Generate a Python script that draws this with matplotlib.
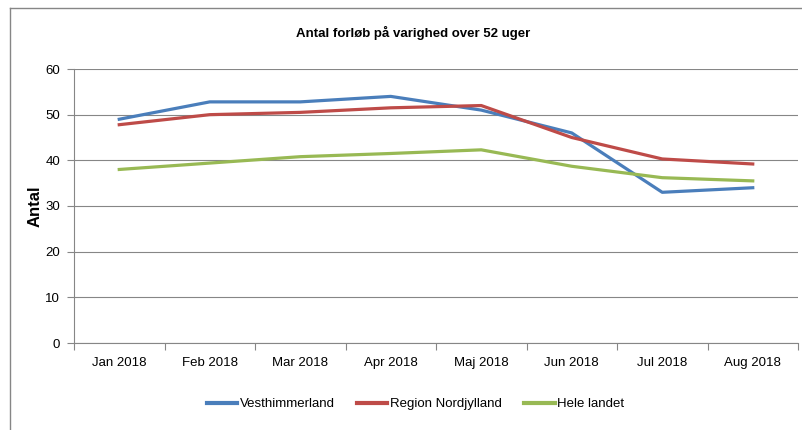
import matplotlib
matplotlib.use("Agg")
import matplotlib.pyplot as plt
from matplotlib import font_manager
from matplotlib.lines import Line2D

names = {f.name for f in font_manager.fontManager.ttflist}
narrow = "Liberation Sans Narrow" if "Liberation Sans Narrow" in names else "Liberation Sans"

categories = ["Jan 2018", "Feb 2018", "Mar 2018", "Apr 2018", "Maj 2018", "Jun 2018", "Jul 2018", "Aug 2018"]
vesthimmerland = [49.0, 52.8, 52.8, 54.0, 51.0, 46.0, 33.0, 34.0]
region_nordjylland = [47.8, 50.0, 50.5, 51.5, 52.0, 45.0, 40.3, 39.2]
hele_landet = [38.0, 39.4, 40.8, 41.5, 42.3, 38.7, 36.2, 35.5]
yticks = [0, 10, 20, 30, 40, 50, 60]

fig = plt.figure(figsize=(8.02, 4.30), dpi=100)
ax = fig.add_axes([74/802, 1-343/430, 724/802, 274/430])

x = list(range(len(categories)))
ax.plot(x, vesthimmerland, color="#4A7EBB", lw=2.3, label="Vesthimmerland", solid_joinstyle="round")
ax.plot(x, region_nordjylland, color="#BE4B48", lw=2.3, label="Region Nordjylland", solid_joinstyle="round")
ax.plot(x, hele_landet, color="#98B954", lw=2.3, label="Hele landet", solid_joinstyle="round")

ax.set_xlim(-0.5, len(categories)-0.5)
ax.set_ylim(0, 60)
ax.set_yticks(yticks)
ax.set_yticklabels([str(v) for v in yticks], fontfamily=narrow, fontsize=9.5)
ax.set_xticks(x)
ax.set_xticklabels(categories, fontfamily=narrow, fontsize=9.5)
ax.tick_params(axis="x", which="major", length=0, pad=10)
ax.set_xticks([i-0.5 for i in range(len(categories)+1)], minor=True)
ax.tick_params(axis="x", which="minor", length=5, color="#868686", width=0.8)
ax.tick_params(axis="y", length=5, color="#868686", width=0.8, pad=5)

ax.grid(axis="y", color="#868686", lw=0.8)
ax.set_axisbelow(True)
for s in ["top", "right"]:
    ax.spines[s].set_visible(False)
for s in ["left", "bottom"]:
    ax.spines[s].set_color("#868686")
    ax.spines[s].set_linewidth(0.8)

ax.set_ylabel("Antal", fontsize=12, fontweight="bold", fontfamily="Liberation Sans", labelpad=2)

fig.text(0.515, 1-33/430, "Antal forløb på varighed over 52 uger", ha="center", va="center",
         fontsize=9.5, fontfamily=narrow, fontweight="bold")

leg = fig.legend(loc="center", bbox_to_anchor=(0.518, 1-404/430), ncol=3, frameon=False,
                 prop={"family": narrow, "size": 9.5}, handlelength=2.3, handletextpad=0.2,
                 columnspacing=1.7)
for l in leg.get_lines():
    l.set_linewidth(3)

# outer chart border
fig.add_artist(Line2D([10/802, 10/802], [0, 1-8/430], transform=fig.transFigure, color="#868686", lw=1))
fig.add_artist(Line2D([10/802, 1], [1-8/430, 1-8/430], transform=fig.transFigure, color="#868686", lw=1))

fig.savefig("out.png", dpi=100)
